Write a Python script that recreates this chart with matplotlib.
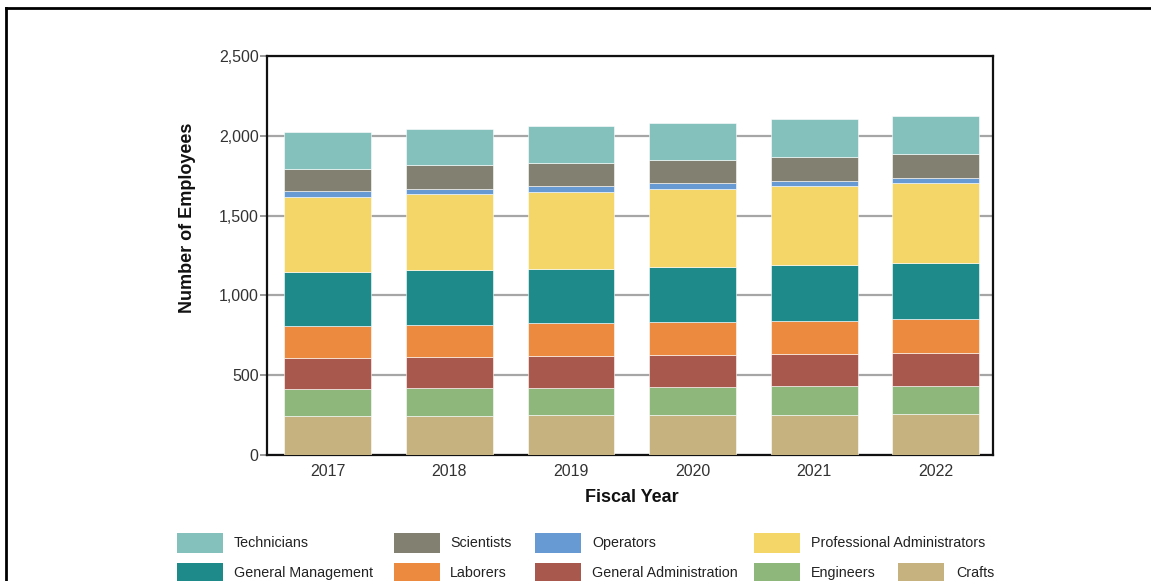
import matplotlib
matplotlib.use("Agg")
import matplotlib.pyplot as plt
from matplotlib.patches import Rectangle
from matplotlib.lines import Line2D
import numpy as np

plt.rcParams['font.family'] = ['Liberation Sans', 'DejaVu Sans']

years = ['2017', '2018', '2019', '2020', '2021', '2022']
categories = ['Crafts', 'Engineers', 'General Administration', 'Laborers',
              'General Management', 'Professional Administrators', 'Operators',
              'Scientists', 'Technicians']
crafts = [244, 246, 249, 251, 253, 259]
engineers = [172, 174, 173, 175, 177, 175]
general_administration = [192, 194, 198, 201, 203, 205]
laborers = [200, 203, 205, 206, 209, 211]
general_management = [337, 340, 342, 347, 348, 353]
professional_administrators = [473, 477, 481, 487, 493, 499]
operators = [34, 35, 35, 35, 34, 34]
scientists = [140, 146, 147, 146, 150, 150]
technicians = [230, 228, 233, 234, 236, 240]
yticks = [0, 500, 1000, 1500, 2000, 2500]
ytick_labels = ['0', '500', '1,000', '1,500', '2,000', '2,500']

series = [crafts, engineers, general_administration, laborers, general_management,
          professional_administrators, operators, scientists, technicians]
colors = {
    'Technicians': '#84C0BC',
    'Scientists': '#818071',
    'Operators': '#679AD2',
    'Professional Administrators': '#F4D668',
    'General Management': '#1F8A8A',
    'Laborers': '#EC8A3F',
    'General Administration': '#A9584E',
    'Engineers': '#8EB87B',
    'Crafts': '#C5B27F',
}

W, H = 1151, 581
fig = plt.figure(figsize=(W / 100, H / 100), dpi=100)
ax = fig.add_axes([267 / W, (H - 455) / H, (993 - 267) / W, (455 - 56) / H])

x = np.arange(len(years))
bottom = np.zeros(len(years))
for name, vals in zip(categories, series):
    ax.bar(x, vals, width=0.715, bottom=bottom, color=colors[name],
           edgecolor='white', linewidth=0.4, zorder=3)
    bottom += np.array(vals)

ax.set_xlim(-0.5, 5.47)
ax.set_ylim(0, 2500)
ax.set_yticks(yticks)
ax.set_yticklabels(ytick_labels)
ax.set_xticks(x)
ax.set_xticklabels(years)
ax.yaxis.grid(True, color='#a6a6a6', linewidth=1.6, zorder=0)
ax.set_axisbelow(True)
for s in ax.spines.values():
    s.set_linewidth(1.6)
    s.set_color('#111111')
ax.tick_params(axis='y', length=5, width=1.2, color='#888888', pad=1,
               labelsize=11.5, labelcolor='#333333')
ax.tick_params(axis='x', length=0, pad=6.5, labelsize=11.5, labelcolor='#333333')

fig.text(187 / W, (H - 218) / H, 'Number of Employees', rotation=90,
         ha='center', va='center', fontsize=13, fontweight='bold', color='#111111')
fig.text(632 / W, (H - 498) / H, 'Fiscal Year', ha='center', va='center',
         fontsize=13, fontweight='bold', color='#111111')

# legend (manual)
legend_rows = [
    ['Technicians', 'Scientists', 'Operators', 'Professional Administrators'],
    ['General Management', 'Laborers', 'General Administration', 'Engineers', 'Crafts'],
]
sw_x = [177, 394, 535, 754, 898]
tx_x = [234, 450, 592, 811, 956]
row_top = [533, 563]
for r, names in enumerate(legend_rows):
    for c, name in enumerate(names):
        fig.add_artist(Rectangle((sw_x[c] / W, (H - row_top[r] - 20) / H), 46 / W, 20 / H,
                                 transform=fig.transFigure, facecolor=colors[name],
                                 edgecolor='none'))
        fig.text(tx_x[c] / W, (H - row_top[r] - 14) / H, name, ha='left', va='baseline',
                 fontsize=10.3, color='#222222')

# frame lines (top and left)
fig.add_artist(Line2D([6 / W, 1.0], [(H - 8) / H, (H - 8) / H], transform=fig.transFigure,
                      color='black', linewidth=2))
fig.add_artist(Line2D([6 / W, 6 / W], [0, (H - 8) / H], transform=fig.transFigure,
                      color='black', linewidth=2))

fig.savefig('out.png', dpi=100)
